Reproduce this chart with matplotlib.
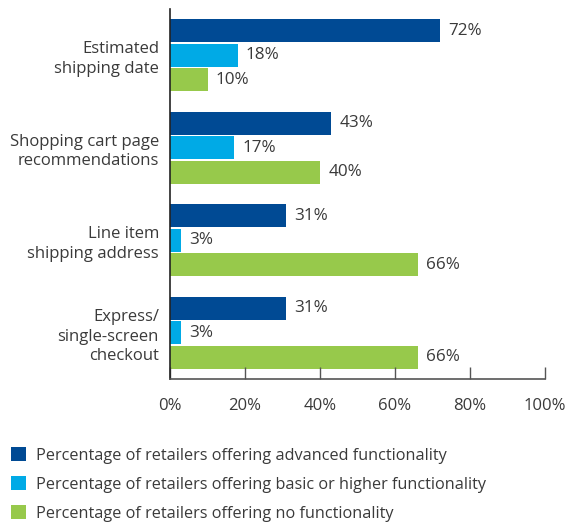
import numpy as np
from matplotlib import pyplot as plt
from matplotlib.patches import Patch

categories = ["Estimated\nshipping date", "Shopping cart page\nrecommendations",
              "Line item\nshipping address", "Express/\nsingle-screen\ncheckout"]
advanced = [72, 43, 31, 31]
basic = [18, 17, 3, 3]
no_func = [10, 40, 66, 66]
series_names = ["Percentage of retailers offering advanced functionality",
                "Percentage of retailers offering basic or higher functionality",
                "Percentage of retailers offering no functionality"]
colors = ["#004a94", "#00aae6", "#97c94b"]
x_ticks = [0, 20, 40, 60, 80, 100]

text_color = "#3a3a3a"
plt.rcParams["font.family"] = ["Open Sans", "DejaVu Sans"]
plt.rcParams["font.size"] = 12

fig = plt.figure(figsize=(5.69, 5.23), dpi=100)
ax = fig.add_axes([170 / 569, 1 - 379 / 523, 375 / 569, 370 / 523])

y = np.arange(len(categories))
height = 0.25
step = 0.266
for i, (vals, color) in enumerate(zip([advanced, basic, no_func], colors)):
    pos = y + (i - 1) * step
    bars = ax.barh(pos, vals, height=height, color=color, label=series_names[i])
    for b, v in zip(bars, vals):
        ax.text(v + 2.2, b.get_y() + b.get_height() / 2, f"{v}%",
                va="center", ha="left", color=text_color, fontsize=12.3)

ax.set_xlim(0, 100)
ax.set_ylim(3.5, -0.5)
ax.set_yticks(y, categories, color=text_color, fontsize=12,
              multialignment="right", linespacing=1.3)
ax.set_xticks(x_ticks, [f"{t}%" for t in x_ticks], color=text_color, fontsize=12)
ax.tick_params(axis="y", length=0, pad=8)
ax.tick_params(axis="x", direction="in", length=9, width=1, color="#555555", pad=14)
for s in ["top", "right"]:
    ax.spines[s].set_visible(False)
ax.spines["left"].set_color("#222222")
ax.spines["bottom"].set_color("#555555")
ax.spines["left"].set_linewidth(1.2)
ax.spines["bottom"].set_linewidth(1.2)

handles = [Patch(facecolor=c, edgecolor="none") for c in colors]
fig.legend(handles, series_names, loc="upper left", bbox_to_anchor=(0.0, 1 - 436 / 523),
           frameon=False, fontsize=11.7, labelcolor=text_color, handlelength=0.9,
           handleheight=0.9, handletextpad=0.6, labelspacing=0.78, borderaxespad=0.3)

fig.savefig("out.png", dpi=100)
